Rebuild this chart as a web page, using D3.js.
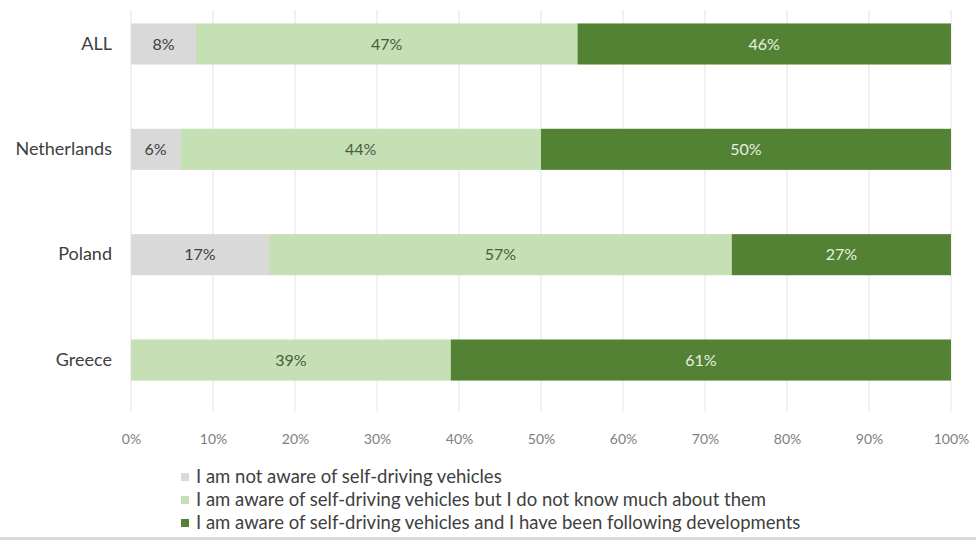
<!DOCTYPE html>
<html>
<head>
<meta charset="utf-8">
<script src="https://cdn.jsdelivr.net/npm/d3@7"></script>
<style>
  html, body { margin: 0; padding: 0; background: #ffffff; }
  svg { display: block; font-family: Lato, "Open Sans", sans-serif; }
</style>
</head>
<body>
<svg id="chart" width="976" height="540"></svg>
<script>
// Survey responses on awareness of self-driving vehicles, by country
const categories = ["ALL", "Netherlands", "Poland", "Greece"];
const seriesNames = [
  "I am not aware of self-driving vehicles",
  "I am aware of self-driving vehicles but I do not know much about them",
  "I am aware of self-driving vehicles and I have been following developments"
];
const notAware = [8, 6, 17, 0];
const awareLittle = [47, 44, 57, 39];
const awareFollowing = [46, 50, 27, 61];
const tickLabels = ["0%", "10%", "20%", "30%", "40%", "50%", "60%", "70%", "80%", "90%", "100%"];

const colors = ["#d9d9d9", "#c5e0b4", "#548235"];
const labelColors = ["#404040", "#4d5a45", "#e8f0e0"];
const fontStack = "Lato, 'Open Sans', sans-serif";

const svg = d3.select("#chart");

const rows = categories.map((c, i) => ({
  cat: c, s0: notAware[i], s1: awareLittle[i], s2: awareFollowing[i]
}));
const keys = ["s0", "s1", "s2"];
const stacked = d3.stack().keys(keys).offset(d3.stackOffsetExpand)(rows);

const x = d3.scaleLinear().domain([0, 1]).range([131, 951]);
const y = d3.scaleBand().domain(categories)
  .range([-8.7, 412.7]).paddingInner(0.61).paddingOuter(0.305);

// vertical gridlines
const gridTop = 10, gridBottom = 412;
svg.append("g").selectAll("line")
  .data(d3.range(0, 11))
  .join("line")
  .attr("x1", d => x(d / 10)).attr("x2", d => x(d / 10))
  .attr("y1", gridTop).attr("y2", gridBottom)
  .attr("stroke", "#e4e4e4").attr("stroke-width", 1);

// bar segments
const layers = svg.append("g").selectAll("g")
  .data(stacked)
  .join("g")
  .attr("fill", (d, i) => colors[i]);

layers.selectAll("rect")
  .data(d => d)
  .join("rect")
  .attr("x", d => x(d[0]))
  .attr("width", d => x(d[1]) - x(d[0]))
  .attr("y", d => y(d.data.cat))
  .attr("height", y.bandwidth());

// value labels inside segments
stacked.forEach((layer, li) => {
  svg.append("g").selectAll("text")
    .data(layer.filter(d => d.data[keys[li]] > 0))
    .join("text")
    .attr("x", d => (x(d[0]) + x(d[1])) / 2)
    .attr("y", d => y(d.data.cat) + y.bandwidth() / 2)
    .attr("dy", "0.35em")
    .attr("text-anchor", "middle")
    .attr("font-size", 16)
    .attr("fill", labelColors[li])
    .text(d => d.data[keys[li]] + "%");
});

// category axis labels
const yAxis = d3.axisLeft(y).tickSize(0).tickPadding(0);
const yg = svg.append("g").attr("transform", "translate(112,0)").call(yAxis);
yg.select(".domain").remove();
yg.selectAll("text").attr("font-size", 18).attr("fill", "#404040")
  .attr("font-family", fontStack);

// percentage axis labels
const xAxis = d3.axisBottom(x).tickValues(d3.range(0, 11).map(d => d / 10))
  .tickFormat((d, i) => tickLabels[i]).tickSize(0).tickPadding(0);
const xg = svg.append("g").attr("transform", "translate(0,434)").call(xAxis);
xg.select(".domain").remove();
xg.selectAll("text").attr("font-size", 14).attr("fill", "#808080")
  .attr("font-family", fontStack);

// legend
const legend = svg.append("g").selectAll("g")
  .data(seriesNames)
  .join("g")
  .attr("transform", (d, i) => `translate(181,${477 + i * 23})`);
legend.append("rect")
  .attr("x", 0).attr("y", -4).attr("width", 8).attr("height", 8)
  .attr("fill", (d, i) => colors[i]);
legend.append("text")
  .attr("x", 15).attr("dy", "0.35em")
  .attr("font-size", 18.5).attr("fill", "#404040")
  .text(d => d);

// bottom edge strip
svg.append("rect").attr("x", 0).attr("y", 537).attr("width", 976).attr("height", 3)
  .attr("fill", "#dadada");
</script>
</body>
</html>
